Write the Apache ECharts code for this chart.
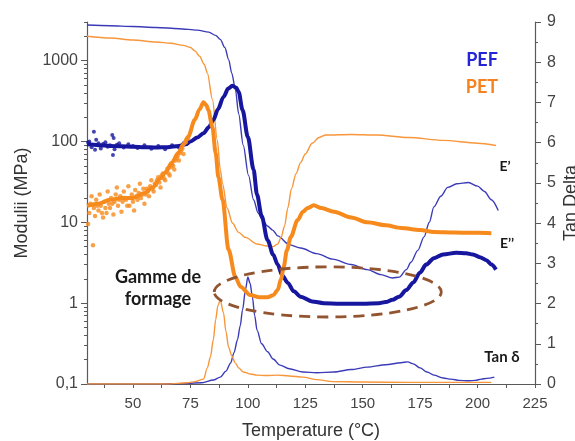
<!DOCTYPE html>
<html>
<head>
<meta charset="utf-8">
<script src="https://cdn.jsdelivr.net/npm/echarts@6/dist/echarts.min.js"></script>
<style>
  html, body { margin: 0; padding: 0; background: #fff; }
  #dma-pic { width: 575px; height: 441px; }
</style>
</head>
<body>
<div id="dma-pic"></div>
<script>
// tick values
const xTickValues = [37.5, 50, 62.5, 75, 87.5, 100, 112.5, 125, 137.5, 150, 162.5, 175, 187.5, 200, 212.5, 225]
const xLabelValues = [50, 75, 100, 125, 150, 175, 200, 225]
const logLabelValues = [0.1, 1, 10, 100, 1000]
const logMinorValues = [0.2, 0.3, 0.4, 0.5, 0.6, 0.7, 0.8, 0.9, 2, 3, 4, 5, 6, 7, 8, 9,
  20, 30, 40, 50, 60, 70, 80, 90, 200, 300, 400, 500, 600, 700, 800, 900, 2000, 3000]

// PEF  [temperature, MPa]
const pefStorage = [[30, 2750], [40, 2700], [50, 2640], [60, 2570], [70, 2480], [78, 2380], [83, 2250],
  [86, 2050], [88, 1830], [90, 1450], [91.7, 1020], [93, 700], [94.6, 440], [96, 220], [98, 90],
  [100.3, 38], [102.5, 19], [104.5, 13], [106.4, 10.7], [108.5, 9], [110.8, 8], [113, 6.8], [118, 5.3],
  [123, 4.8], [130, 4.1], [137, 3.5], [145, 3.0], [152, 2.6], [158, 2.25], [163, 2.05], [166, 2.1],
  [169, 2.6], [171, 3.2], [174, 4.5], [176.7, 6.6], [179, 10], [181, 15.5], [184, 21], [187, 27],
  [191, 30], [196, 31], [200, 28], [203, 24], [206, 19], [209, 14]]
const pefLoss = [[30, 92], [35, 90], [40, 88], [45, 87], [50, 86], [55, 85], [60, 84], [65, 85], [70, 88],
  [73, 92], [75, 100], [78, 112], [80.7, 126], [83, 150], [85, 185], [87, 250], [89.4, 355], [91.5, 450],
  [93.3, 490], [95, 460], [96, 410], [97.7, 245], [100, 114], [102.5, 45], [104, 22], [106, 12],
  [108.6, 6.0], [111, 4], [113, 3.0], [115, 2.2], [117.4, 1.78], [120, 1.4], [123, 1.2], [128, 1.05],
  [133, 1.0], [140, 0.98], [150, 0.98], [157, 1.0], [160, 1.03], [163, 1.1], [165.8, 1.2], [169, 1.45],
  [172, 1.8], [175, 2.4], [177.6, 3.0], [181, 3.6], [185, 4.0], [190.7, 4.2], [195, 4.15], [198, 4.0],
  [201, 3.7], [203.8, 3.4], [206, 3.0], [208, 2.6]]
const pefLossNoise = [[30.5, 97], [31, 100], [32, 85], [33, 132], [33.5, 79], [34, 105], [35, 95], [36, 82],
  [37, 93], [38, 98], [39, 86], [40, 90], [41, 120], [41.3, 68], [41.6, 110], [42, 80], [43, 91], [44, 95],
  [46, 84], [48, 92], [50, 88], [52, 83], [55, 90], [58, 81], [61, 88], [64, 80], [67, 90], [70, 84], [72, 95]]
const pefTan = [[30, 0], [60, 0], [70, 0.01], [80, 0.03], [85, 0.1], [88, 0.17], [90.5, 0.32], [92.5, 0.52],
  [94, 0.78], [95.5, 1.1], [96.7, 1.45], [97.7, 1.84], [99, 2.35], [100, 2.66], [101, 2.5], [102, 2.16],
  [103, 1.7], [104, 1.34], [106, 1.0], [108.6, 0.8], [111, 0.62], [114, 0.47], [118, 0.38], [124, 0.3],
  [130, 0.28], [137.5, 0.3], [145, 0.36], [152, 0.42], [160, 0.48], [166.7, 0.53], [169.6, 0.55],
  [172, 0.5], [175, 0.4], [178, 0.3], [181, 0.22], [185, 0.15], [188.5, 0.12], [192, 0.09], [196, 0.08],
  [199, 0.09], [201.6, 0.12], [204, 0.14], [207.3, 0.17]]

// PET
const petStorage = [[30, 2000], [40, 1900], [50, 1800], [60, 1700], [66.5, 1640], [72, 1540], [75, 1450],
  [77, 1320], [79, 1130], [81, 900], [82.4, 700], [84.6, 330], [86.7, 104], [88, 45], [89, 30], [91, 15],
  [93.3, 9.8], [96, 7.5], [99, 6.5], [104, 5.4], [108, 5.1], [111, 5.0], [113, 5.4], [114.5, 6.5],
  [116, 9], [117.4, 15], [119, 26], [121, 40], [123, 55], [125, 70], [128, 95], [131, 112], [134, 120],
  [145, 122], [156, 120], [170, 112], [185, 103], [200, 95], [208, 89]]
const petLoss = [[30, 16], [35, 17], [40, 19], [45, 20], [50, 20], [55, 23], [58.5, 27], [62, 35], [64, 41],
  [67, 55], [69.7, 72], [72, 92], [74, 114], [77, 187], [79, 250], [80.7, 305], [82, 280], [82.8, 245],
  [84.6, 150], [86, 72], [87.2, 36], [89, 19], [91.6, 4.6], [94.6, 2.1], [96.8, 1.6], [101, 1.26],
  [105, 1.18], [108.6, 1.18], [111, 1.25], [113, 1.45], [114.5, 2.0], [115.6, 2.8], [117, 4.5],
  [118.7, 6.6], [121.7, 10.7], [124, 13.5], [126, 15], [128.7, 16.2], [132, 15], [137.5, 13.5],
  [145, 11.5], [152, 10], [160, 9.2], [166.7, 8.5], [175, 8], [181, 7.6], [190, 7.5], [200, 7.4],
  [206, 7.3]]
const petLossNoise = [[30.5, 9.5], [31, 13], [31.5, 17], [32, 21], [32.6, 5.2], [33, 15], [33.5, 12],
  [34, 19], [34.5, 16], [35, 14], [35.5, 22], [36, 16], [36.5, 13], [37, 11.5], [37.5, 18], [38, 15],
  [38.5, 13], [39, 24], [39.5, 17], [40, 15], [40.5, 20], [41, 17], [41.5, 12.5], [42, 18], [42.5, 22],
  [43, 27], [43.5, 16], [44, 19], [44.5, 21], [45, 13.5], [45.5, 18], [46, 24], [46.5, 20], [47, 19],
  [47.5, 16], [48, 28], [48.5, 16], [49, 20], [49.5, 22], [50, 18], [50.5, 14], [51, 25], [51.5, 21],
  [52, 19], [52.5, 23], [53, 30], [53.5, 20], [54, 22], [54.5, 26], [55, 17], [55.5, 22], [56, 26],
  [56.5, 24], [57, 21], [57.5, 28], [58, 33], [58.5, 26], [59, 24], [59.5, 30], [60, 29], [60.5, 33],
  [61, 36], [61.5, 31], [62, 27], [62.5, 38], [63, 40], [63.5, 35], [64, 33], [64.5, 42], [65, 46],
  [65.5, 40], [66, 38], [66.5, 48], [67, 52], [67.5, 50], [68, 45], [68.5, 58], [69, 62], [69.5, 66],
  [70, 58], [70.5, 72], [71, 78], [71.5, 82], [72, 70], [73, 98], [74, 108]]
const petTan = [[30, 0], [65, 0], [73.7, 0.03], [77, 0.06], [80.7, 0.12], [82.4, 0.4], [83.7, 0.67],
  [85, 1.1], [86, 1.6], [87, 1.95], [88, 2.09], [89.4, 1.77], [90.5, 1.3], [91.6, 0.92], [93, 0.7],
  [94.6, 0.52], [96, 0.4], [98, 0.3], [101, 0.25], [104, 0.22], [108, 0.21], [113, 0.22], [118, 0.2],
  [124, 0.17], [130, 0.11], [137, 0.06], [150, 0.05], [170, 0.04], [190, 0.04], [206, 0.04]]

// forming window (centre and half-widths in data units)
const formingWindow = { t: 134.8, e: 1.376, tHalf: 49.4, decades: 0.31 }

const PEF_THIN = '#3b3bb8'
const PEF_THICK = '#16169e'
const PET_THIN = '#f7963a'
const PET_THICK = '#f68a1c'
const AXIS_GREY = '#5a5a5a'
const LABEL_GREY = '#444'
const FONT = 'Liberation Sans, Arial, sans-serif'
const BOLD_FONT = 'Lato, Open Sans, sans-serif'

const myChart = echarts.init(document.getElementById('dma-pic'))

function lineSeries (data, color, width, yIndex, z) {
  return {
    type: 'line',
    data: data,
    yAxisIndex: yIndex,
    showSymbol: false,
    smooth: 0.3,
    smoothMonotone: 'x',
    lineStyle: { color: color, width: width },
    z: z,
    silent: true
  }
}

function noiseSeries (data, color, size, z) {
  return {
    type: 'scatter',
    data: data,
    yAxisIndex: 0,
    symbolSize: size,
    itemStyle: { color: color },
    z: z,
    silent: true
  }
}

function labelText (text, x, y, size, color) {
  return {
    type: 'text',
    x: x,
    y: y,
    z: 100,
    style: {
      text: text,
      fill: color || '#1a1a1a',
      font: 'bold ' + size + 'px ' + BOLD_FONT,
      align: 'center',
      verticalAlign: 'middle'
    }
  }
}

const option = {
  animation: false,
  grid: { left: 87, right: 40, top: 22, bottom: 57, outerBoundsMode: 'none', containLabel: false },
  xAxis: {
    type: 'value',
    min: 30,
    max: 225,
    name: 'Temperature (°C)',
    nameLocation: 'middle',
    nameGap: 38,
    nameTextStyle: { fontSize: 18, color: '#333', fontFamily: FONT },
    axisLine: { lineStyle: { color: AXIS_GREY, width: 1.2 } },
    axisTick: { customValues: xTickValues, length: 4, lineStyle: { color: AXIS_GREY } },
    axisLabel: { customValues: xLabelValues, margin: 12, fontSize: 15, color: LABEL_GREY, fontFamily: FONT },
    splitLine: { show: false }
  },
  yAxis: [
    {
      type: 'log',
      logBase: 10,
      min: 0.1,
      max: 3000,
      position: 'left',
      name: 'Modulii (MPa)',
      nameLocation: 'middle',
      nameGap: 54,
      nameTextStyle: { fontSize: 18, color: '#333', fontFamily: FONT },
      axisLine: { show: true, lineStyle: { color: AXIS_GREY, width: 1.2 } },
      axisTick: { customValues: logLabelValues, length: 6, lineStyle: { color: AXIS_GREY } },
      axisLabel: {
        customValues: logLabelValues,
        margin: 9,
        fontSize: 16,
        color: LABEL_GREY,
        fontFamily: FONT,
        formatter: v => (v < 0.5 ? '0,1' : String(Math.round(v)))
      },
      splitLine: { show: false }
    },
    {
      type: 'log',
      logBase: 10,
      min: 0.1,
      max: 3000,
      position: 'left',
      offset: 0,
      axisLine: { show: false },
      axisTick: { customValues: logMinorValues, length: 3, lineStyle: { color: AXIS_GREY } },
      axisLabel: { show: false },
      splitLine: { show: false }
    },
    {
      type: 'value',
      min: 0,
      max: 9,
      interval: 1,
      position: 'right',
      name: 'Tan Delta',
      nameLocation: 'middle',
      nameGap: 27,
      nameMoveOverlap: false,
      nameTextStyle: { fontSize: 18, color: '#333', fontFamily: FONT },
      axisLine: { show: true, lineStyle: { color: AXIS_GREY, width: 1.2 } },
      axisTick: { length: 6, lineStyle: { color: AXIS_GREY } },
      minorTick: { show: true, splitNumber: 2, length: 3, lineStyle: { color: AXIS_GREY } },
      axisLabel: { margin: 12, fontSize: 16, color: LABEL_GREY, fontFamily: FONT },
      splitLine: { show: false }
    }
  ],
  series: [
    lineSeries(pefTan, PEF_THIN, 1.4, 2, 2),
    lineSeries(petTan, PET_THIN, 1.4, 2, 2),
    lineSeries(pefStorage, PEF_THIN, 1.4, 0, 3),
    lineSeries(petStorage, PET_THIN, 1.4, 0, 3),
    noiseSeries(pefLossNoise, PEF_THICK, 4, 4),
    lineSeries(pefLoss, PEF_THICK, 4, 0, 4),
    noiseSeries(petLossNoise, PET_THICK, 4.5, 5),
    lineSeries(petLoss, PET_THICK, 4, 0, 5)
  ]
}

myChart.setOption(option)

// annotations
const c = myChart.convertToPixel({ xAxisIndex: 0, yAxisIndex: 0 }, [formingWindow.t, formingWindow.e])
const r = myChart.convertToPixel({ xAxisIndex: 0, yAxisIndex: 0 },
  [formingWindow.t + formingWindow.tHalf, formingWindow.e * Math.pow(10, formingWindow.decades)])

myChart.setOption({
  graphic: [
    {
      type: 'ellipse',
      z: 90,
      shape: { cx: c[0], cy: c[1], rx: r[0] - c[0], ry: c[1] - r[1] },
      style: { fill: 'none', stroke: '#93552f', lineWidth: 2.8, lineDash: [11, 7] }
    },
    labelText('PEF', 482, 60, 18, '#2525d8'),
    labelText('PET', 482, 87, 18, '#f5821f'),
    labelText('E’', 505, 166, 14),
    labelText('E’’', 507, 243, 14),
    labelText('Tan δ', 502, 357, 15),
    labelText('Gamme de', 158, 277, 18),
    labelText('formage', 158, 299, 18)
  ]
})
</script>
</body>
</html>
